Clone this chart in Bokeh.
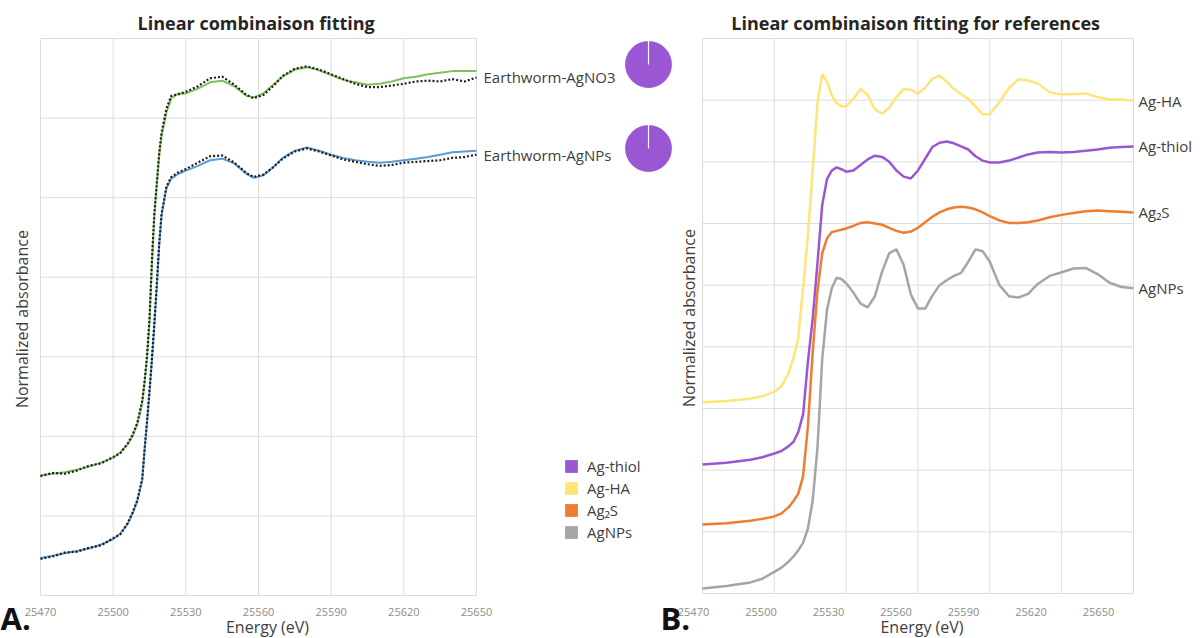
import numpy as np
from bokeh.plotting import figure
from bokeh.models import Range1d, ColumnDataSource, Legend, LegendItem
from bokeh.embed import file_html
from bokeh.resources import INLINE
from bokeh.core.properties import value

# ------------------------------------------------------------------ data
x_ticks = [25470, 25500, 25530, 25560, 25590, 25620, 25650]
y_grid_a = [0, 1, 2, 3, 4, 5, 6, 7]
y_grid_b = [0, 1, 2, 3, 4, 5, 6, 7, 8, 9]

# Panel A : sample spectra (black dotted) and their linear-combination fits
energy_a = [25470, 25475, 25480, 25485, 25490, 25495, 25500, 25503, 25506, 25508,
            25510, 25512, 25513, 25514, 25515, 25516, 25517, 25518, 25519, 25520,
            25522, 25524, 25527, 25530, 25535, 25540, 25545, 25550, 25555, 25558,
            25562, 25566, 25570, 25575, 25580, 25585, 25590, 25595, 25600, 25605,
            25610, 25615, 25620, 25625, 25630, 25635, 25640, 25645, 25650]
fit_agno3 = [1.51, 1.53, 1.55, 1.58, 1.62, 1.67, 1.73, 1.80, 1.90, 2.00,
             2.16, 2.42, 2.68, 3.00, 3.45, 4.18, 4.78, 5.15, 5.53, 5.78,
             6.07, 6.25, 6.31, 6.31, 6.37, 6.45, 6.47, 6.40, 6.28, 6.26,
             6.31, 6.42, 6.52, 6.61, 6.64, 6.60, 6.54, 6.48, 6.45, 6.42,
             6.43, 6.46, 6.50, 6.52, 6.55, 6.57, 6.59, 6.59, 6.59]
data_agno3 = [1.50, 1.54, 1.53, 1.57, 1.63, 1.66, 1.74, 1.79, 1.91, 2.02,
              2.17, 2.45, 2.70, 3.02, 3.47, 4.20, 4.80, 5.18, 5.56, 5.82,
              6.12, 6.28, 6.30, 6.33, 6.40, 6.50, 6.52, 6.42, 6.29, 6.25,
              6.29, 6.40, 6.53, 6.62, 6.65, 6.61, 6.55, 6.49, 6.43, 6.39,
              6.39, 6.41, 6.43, 6.46, 6.47, 6.46, 6.49, 6.46, 6.51]
fit_agnps = [0.47, 0.50, 0.53, 0.56, 0.59, 0.64, 0.71, 0.78, 0.90, 1.03,
             1.19, 1.45, 1.83, 2.18, 2.55, 2.95, 3.40, 3.88, 4.40, 4.78,
             5.12, 5.24, 5.30, 5.34, 5.40, 5.47, 5.49, 5.43, 5.30, 5.25,
             5.28, 5.38, 5.50, 5.59, 5.63, 5.59, 5.54, 5.50, 5.47, 5.45,
             5.44, 5.45, 5.47, 5.49, 5.51, 5.54, 5.57, 5.58, 5.59]
data_agnps = [0.46, 0.49, 0.54, 0.55, 0.60, 0.63, 0.72, 0.77, 0.91, 1.04,
              1.20, 1.47, 1.85, 2.20, 2.58, 2.98, 3.42, 3.90, 4.42, 4.80,
              5.14, 5.26, 5.32, 5.36, 5.44, 5.52, 5.53, 5.44, 5.31, 5.26,
              5.29, 5.38, 5.49, 5.58, 5.62, 5.58, 5.53, 5.48, 5.45, 5.42,
              5.40, 5.41, 5.44, 5.45, 5.46, 5.47, 5.50, 5.51, 5.54]
sample_labels = ["Earthworm-AgNO3", "Earthworm-AgNPs"]

# Fit weights (pie charts), same order as the legend
components = ["Ag-thiol", "Ag-HA", "Ag\u2082S", "AgNPs"]
pie_agno3 = [100, 0, 0, 0]
pie_agnps = [100, 0, 0, 0]

# Panel B : reference spectra (offset)
energy_b = [25470, 25480, 25490, 25495, 25500, 25503, 25506, 25508, 25510, 25512,
            25514, 25516, 25518, 25520, 25522, 25524, 25526, 25528, 25530, 25533,
            25536, 25539, 25542, 25545, 25548, 25551, 25554, 25557, 25560, 25563,
            25566, 25569, 25572, 25575, 25578, 25581, 25584, 25587, 25590, 25594,
            25598, 25602, 25606, 25610, 25615, 25620, 25625, 25630, 25635, 25640,
            25645, 25650]
ref_ag_ha = [3.10, 3.12, 3.16, 3.20, 3.27, 3.36, 3.58, 3.82, 4.15, 4.95,
             5.80, 6.85, 7.95, 8.42, 8.30, 8.08, 7.95, 7.90, 7.90, 8.02,
             8.18, 8.08, 7.85, 7.78, 7.88, 8.05, 8.18, 8.17, 8.11, 8.20,
             8.35, 8.40, 8.30, 8.18, 8.10, 8.02, 7.90, 7.77, 7.77, 7.97,
             8.20, 8.34, 8.32, 8.27, 8.13, 8.09, 8.10, 8.11, 8.05, 8.01,
             8.01, 7.99]
ref_ag_thiol = [2.09, 2.12, 2.17, 2.21, 2.27, 2.31, 2.39, 2.46, 2.62, 2.90,
                3.75, 4.45, 5.35, 6.30, 6.72, 6.86, 6.91, 6.88, 6.84, 6.86,
                6.95, 7.04, 7.10, 7.08, 7.00, 6.86, 6.76, 6.73, 6.86, 7.05,
                7.24, 7.31, 7.33, 7.30, 7.25, 7.20, 7.09, 7.02, 6.99, 6.99,
                7.02, 7.07, 7.12, 7.15, 7.16, 7.15, 7.16, 7.18, 7.20, 7.23,
                7.24, 7.25]
ref_ag2s = [1.12, 1.14, 1.18, 1.21, 1.25, 1.30, 1.40, 1.50, 1.62, 1.90,
            2.70, 3.90, 4.90, 5.52, 5.76, 5.86, 5.88, 5.90, 5.92, 5.96,
            6.01, 6.02, 6.00, 5.98, 5.93, 5.88, 5.85, 5.87, 5.93, 6.02,
            6.11, 6.18, 6.23, 6.26, 6.27, 6.26, 6.23, 6.18, 6.12, 6.05,
            6.01, 6.01, 6.02, 6.05, 6.10, 6.14, 6.17, 6.20, 6.21, 6.20,
            6.19, 6.18]
ref_agnps = [0.08, 0.12, 0.18, 0.24, 0.35, 0.42, 0.52, 0.60, 0.70, 0.82,
             1.05, 1.50, 2.35, 3.80, 4.60, 4.95, 5.12, 5.10, 5.03, 4.88,
             4.70, 4.64, 4.82, 5.22, 5.52, 5.58, 5.33, 4.85, 4.62, 4.62,
             4.83, 5.00, 5.08, 5.15, 5.20, 5.38, 5.58, 5.55, 5.38, 5.00,
             4.82, 4.80, 4.86, 5.02, 5.15, 5.21, 5.27, 5.28, 5.18, 5.04,
             4.97, 4.95]
ref_names = ["Ag-HA", "Ag-thiol", "Ag\u2082S", "AgNPs"]

# ------------------------------------------------------------------ style / layout
W, H = 1203, 638
FONT = "Open Sans"
GRID = "#dcdcdc"
TXT = "#404040"
TICK = "#8c8c8c"
GREEN = "#7DC35B"
BLUE = "#5B9BD5"
DOTS = "#1e1e1e"
PURPLE = "#9B57D3"
YELLOW = "#FFE47A"
ORANGE = "#ED7D31"
GRAY = "#A5A5A5"
comp_colors = [PURPLE, YELLOW, ORANGE, GRAY]
ref_colors = [YELLOW, PURPLE, ORANGE, GRAY]

# plot-area boxes in page pixels (left, right, top, bottom)
FRAME_A = (40, 476, 38, 595)
FRAME_B = (702, 1133, 38, 593)
TICKLAB_B = (693, 1098)        # centres of first / last tick label of panel B


def Y(y_down):
    return H - y_down


p = figure(width=W, height=H, x_range=Range1d(0, W), y_range=Range1d(0, H),
           output_backend="svg", toolbar_location=None, min_border=0,
           x_axis_location=None, y_axis_location=None)
p.grid.visible = False
p.outline_line_color = None


def x_scale_range(lo, hi, px_lo, px_hi):
    s = (px_hi - px_lo) / (hi - lo)
    return Range1d(lo - px_lo / s, hi + (W - px_hi) / s)


def y_scale_range(lo, hi, px_top, px_bottom):
    s = (px_bottom - px_top) / (hi - lo)
    return Range1d(lo - (H - px_bottom) / s, hi + px_top / s)


p.extra_x_ranges = {
    "ax": x_scale_range(x_ticks[0], x_ticks[-1], FRAME_A[0], FRAME_A[1]),
    "bx": x_scale_range(x_ticks[0], x_ticks[-1], FRAME_B[0], FRAME_B[1]),
    "bt": x_scale_range(x_ticks[0], x_ticks[-1], TICKLAB_B[0], TICKLAB_B[1]),
}
p.extra_y_ranges = {
    "ay": y_scale_range(y_grid_a[0], y_grid_a[-1], FRAME_A[2], FRAME_A[3]),
    "by": y_scale_range(y_grid_b[0], y_grid_b[-1], FRAME_B[2], FRAME_B[3]),
}


def txt(xs, ys, texts, xr="default", yr="default", size="15px", color=TXT,
        align="left", style="normal", angle=0.0, x_offset=0):
    p.text(x=xs, y=ys, text=texts, x_range_name=xr, y_range_name=yr,
           text_font=value(FONT), text_font_size=size, text_color=color,
           text_align=align, text_baseline="middle", text_font_style=style,
           angle=angle, x_offset=x_offset)


def panel_grid(xr, yr, ygrid):
    n = len(x_ticks)
    p.segment(x0=x_ticks, y0=[ygrid[0]] * n, x1=x_ticks, y1=[ygrid[-1]] * n,
              x_range_name=xr, y_range_name=yr, line_color=GRID, line_width=1)
    m = len(ygrid)
    p.segment(x0=[x_ticks[0]] * m, y0=ygrid, x1=[x_ticks[-1]] * m, y1=ygrid,
              x_range_name=xr, y_range_name=yr, line_color=GRID, line_width=1)


mid_e = (x_ticks[0] + x_ticks[-1]) / 2

# ------------------------------------------------------------------ panel A
panel_grid("ax", "ay", y_grid_a)
p.line(energy_a, fit_agno3, x_range_name="ax", y_range_name="ay", line_color=GREEN, line_width=2)
p.line(energy_a, data_agno3, x_range_name="ax", y_range_name="ay", line_color=DOTS,
       line_width=2.2, line_dash="2 2")
p.line(energy_a, fit_agnps, x_range_name="ax", y_range_name="ay", line_color=BLUE, line_width=2)
p.line(energy_a, data_agnps, x_range_name="ax", y_range_name="ay", line_color=DOTS,
       line_width=2.2, line_dash="2 2")

txt([mid_e], [Y(22)], ["Linear combinaison  fitting"], xr="ax", size="18px",
    color="#262626", align="center", style="bold")
txt(x_ticks, [Y(611)] * len(x_ticks), [str(t) for t in x_ticks], xr="ax", size="11px",
    color=TICK, align="center")
txt([mid_e], [Y(626)], ["Energy (eV)"], xr="ax", size="16px", align="center", x_offset=9)
txt([x_ticks[0]], [(y_grid_a[0] + y_grid_a[-1]) / 2], ["Normalized  absorbance"],
    xr="ax", yr="ay", size="16px", align="center", angle=np.pi / 2, x_offset=-19)
txt([energy_a[-1], energy_a[-1]], [data_agno3[-1], data_agnps[-1]], sample_labels,
    xr="ax", yr="ay", size="15px", x_offset=7)
txt([0], [Y(617)], ["A."], size="31px", color="#111111", style="bold")

# ------------------------------------------------------------------ pies + legend
for fracs, cy in ((pie_agno3, 64), (pie_agnps, 148)):
    f = np.array(fracs, dtype=float) / float(sum(fracs))
    cum = np.concatenate([[0.0], np.cumsum(f)])
    start = np.pi / 2 - 2 * np.pi * cum[:-1]
    end = np.pi / 2 - 2 * np.pi * cum[1:]
    full = np.isclose(f, 1.0)
    end[full] = start[full]          # a 100 % slice: closed circle
    keep = f > 0
    n = int(keep.sum())
    src = ColumnDataSource(dict(x=[648] * n, y=[Y(cy)] * n,
                                start=start[keep], end=end[keep],
                                color=[c for c, k in zip(comp_colors, keep) if k]))
    p.wedge(x="x", y="y", radius=24, start_angle="start", end_angle="end",
            direction="clock", fill_color="color", line_color="white",
            line_width=1.2, source=src)

nan4 = [np.nan] * len(components)
leg_src = ColumnDataSource(dict(l=nan4, r=nan4, t=nan4, b=nan4, color=comp_colors))
leg_r = p.quad(left="l", right="r", top="t", bottom="b", fill_color="color",
               line_color=None, source=leg_src)
legend = Legend(items=[LegendItem(label=n, renderers=[leg_r], index=i)
                       for i, n in enumerate(components)],
                location=(563, Y(542)), orientation="vertical",
                glyph_width=16, glyph_height=16, label_height=16, spacing=2,
                label_standoff=8, padding=0, margin=0,
                border_line_color=None, background_fill_alpha=0,
                label_text_font=FONT, label_text_font_size="15px", label_text_color=TXT)
p.add_layout(legend)

# ------------------------------------------------------------------ panel B
panel_grid("bx", "by", y_grid_b)
series_b = [ref_ag_ha, ref_ag_thiol, ref_ag2s, ref_agnps]
for ys, col in zip(series_b, ref_colors):
    p.line(energy_b, ys, x_range_name="bx", y_range_name="by", line_color=col, line_width=2.5)

txt([mid_e], [Y(22)], ["Linear combinaison  fitting for references"], xr="bx", size="18px",
    color="#262626", align="center", style="bold")
txt(x_ticks, [Y(611)] * len(x_ticks), [str(t) for t in x_ticks], xr="bt", size="11px",
    color=TICK, align="center")
txt([mid_e], [Y(626)], ["Energy (eV)"], xr="bx", size="16px", align="center", x_offset=4)
txt([x_ticks[0]], [(y_grid_b[0] + y_grid_b[-1]) / 2], ["Normalized  absorbance"],
    xr="bx", yr="by", size="16px", align="center", angle=np.pi / 2, x_offset=-14)
txt([energy_b[-1]] * 4, [s[-1] for s in series_b], ref_names, xr="bx", yr="by",
    size="15px", x_offset=5)
txt([660], [Y(617)], ["B."], size="31px", color="#111111", style="bold")

open("out.html", "w").write(file_html(p, INLINE))
